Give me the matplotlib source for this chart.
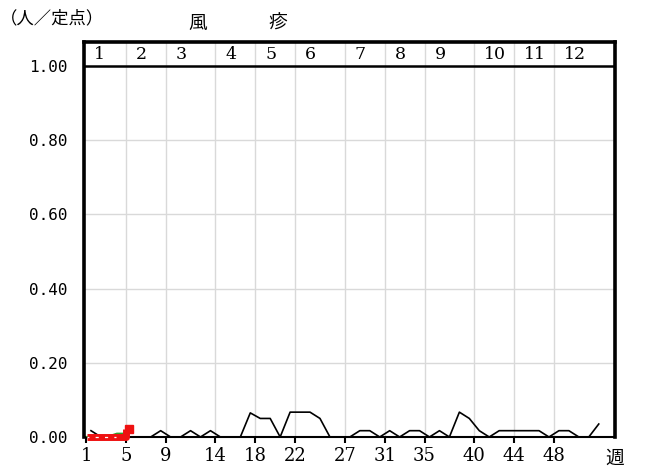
import matplotlib
matplotlib.use("Agg")
import matplotlib.pyplot as plt
import numpy as np

# ---- data ----
weeks_prev = list(range(1, 53))
values_prev = [0.017, 0, 0, 0, 0, 0, 0, 0.017, 0, 0,
               0.017, 0, 0.017, 0, 0, 0, 0.065, 0.05, 0.05, 0,
               0.067, 0.067, 0.067, 0.05, 0, 0, 0, 0.017, 0.017, 0,
               0.017, 0, 0.017, 0.017, 0, 0.017, 0, 0.067, 0.05, 0.017,
               0, 0.017, 0.017, 0.017, 0.017, 0.017, 0, 0.017, 0.017, 0,
               0, 0.035]
weeks_green = [1, 2, 3, 4, 5]
values_green = [0, 0, 0, 0.009, 0.009]
weeks_cur = [1, 2, 3, 4, 5]
values_cur = [0, 0, 0, 0, 0.022]

month_start_weeks = [1, 5, 9, 14, 18, 22, 27, 31, 35, 40, 44, 48]
month_labels = ["1", "2", "3", "4", "5", "6", "7", "8", "9", "10", "11", "12"]
xtick_weeks = [1, 5, 9, 14, 18, 22, 27, 31, 35, 40, 44, 48]
ytick_vals = [0.0, 0.2, 0.4, 0.6, 0.8, 1.0]
ytick_labels = ["0.00", "0.20", "0.40", "0.60", "0.80", "1.00"]

JP = ["Noto Sans CJK JP", "DejaVu Sans"]
NUM = "DejaVu Sans Mono"
SER = "DejaVu Serif"

fig = plt.figure(figsize=(6.6, 4.71), dpi=100)
ax = fig.add_axes([0.1273, 0.0722, 0.8045, 0.8386])
ax.set_xlim(0.8, 54.13)
ax.set_ylim(0, 1.065)

# grid
for w in month_start_weeks[1:]:
    ax.axvline(w, color="#d9d9d9", lw=1.0, zorder=0)
for v in ytick_vals[1:-1]:
    ax.axhline(v, color="#d9d9d9", lw=1.0, zorder=0)
ax.axhline(1.0, color="black", lw=1.8, zorder=3)

# data
off = 0.5
ax.plot(np.array(weeks_prev) + off, values_prev, color="black", lw=1.2, zorder=4)
ax.plot(np.array(weeks_green) + 0.1, values_green, color="#2ca02c", lw=1.5,
        zorder=3.5)
xc = np.array(weeks_cur) + 0.05
ax.plot(xc, values_cur, color="#ee1111", lw=5, zorder=5, clip_on=False,
        solid_capstyle="butt", drawstyle="steps-post")
ax.plot(xc[:-1], values_cur[:-1], color="white", lw=0.9, zorder=6, clip_on=False,
        linestyle=(1, (2.5, 5)))
ax.plot([xc[-1] + 0.3], [values_cur[-1]], marker="s", color="#ee1111",
        markersize=6, zorder=6, clip_on=False)

# month header
for w, lab in zip(month_start_weeks, month_labels):
    ax.text(w + 1.0 if w > 1 else w + 0.8, 1.032, lab, ha="left", va="center",
            fontsize=12.5, family=SER, zorder=7)

# spines
for s in ["left", "top", "right"]:
    ax.spines[s].set_linewidth(2.6)
ax.spines["bottom"].set_linewidth(1.5)

ax.set_yticks(ytick_vals)
ax.set_yticklabels(ytick_labels, family=NUM, fontsize=11.5)
ax.tick_params(axis="y", length=0, pad=12)
ax.set_xticks(xtick_weeks)
ax.set_xticklabels([str(w) for w in xtick_weeks], family=SER, fontsize=13)
ax.tick_params(axis="x", length=4, width=1.5, direction="out", pad=3)

fig.text(615 / 660, 1 - 458 / 471, "週", family=JP, fontsize=13.5,
         ha="center", va="center")
fig.text(0 / 660, 1 - 18 / 471, "（人／定点）", family=JP, fontsize=12.5,
         ha="left", va="center")
fig.text(198 / 660, 1 - 23 / 471, "風", family=JP, fontsize=13.5,
         ha="center", va="center")
fig.text(278 / 660, 1 - 23 / 471, "疹", family=JP, fontsize=13.5,
         ha="center", va="center")

fig.savefig("out.png", dpi=100)
